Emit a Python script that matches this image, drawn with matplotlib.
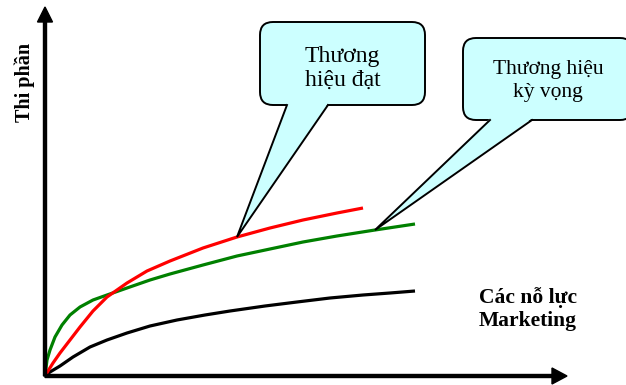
import matplotlib
matplotlib.use("Agg")
import matplotlib.pyplot as plt
from matplotlib.patches import FancyBboxPatch, Polygon

# Curves (x = marketing effort, y = market share)
red_x = [0, 3, 8, 15, 25, 35, 48, 62, 82, 102, 125, 158, 192, 225, 258, 292, 318]
red_y = [0, 5, 13, 23, 36, 49, 65, 79, 93, 105, 115, 128, 139, 148, 156, 163, 168]

green_x = [0, 1, 2, 5, 10, 17, 25, 35, 48, 62, 82, 105, 125, 158, 192, 225, 258, 292, 330, 370]
green_y = [0, 8, 16, 26, 39, 51, 61, 69, 76, 81, 88, 96, 102, 111, 120, 127, 134, 140, 146, 152]

black_x = [0, 5, 15, 28, 45, 62, 82, 105, 132, 160, 185, 220, 252, 285, 318, 345, 370]
black_y = [0, 4, 10, 19, 29, 36, 43, 50, 56, 61, 65, 70, 74, 78, 81, 83, 85]

ylabel = "Thi phần"
xlabel = "Các nỗ lực\nMarketing"
callout_red = "Thương\nhiệu đạt"
callout_green = "Thương hiệu\nkỳ vọng"

SERIF = ["Liberation Serif", "DejaVu Serif"]
BUBBLE_FILL = "#CCFFFF"

fig = plt.figure(figsize=(6.26, 3.85), dpi=100)
ax = fig.add_axes([0, 0, 1, 1])
ax.set_xlim(-45, 581)
ax.set_ylim(-9, 376)
ax.axis("off")

# axes drawn as arrows
ax.arrow(0, 0, 0, 369, width=3, head_width=15, head_length=15,
         length_includes_head=True, fc="black", ec="black", zorder=5)
ax.arrow(0, 0, 522, 0, width=3, head_width=16, head_length=15,
         length_includes_head=True, fc="black", ec="black", zorder=5)

ax.plot(black_x, black_y, color="black", lw=2.3, solid_capstyle="butt", zorder=3)
ax.plot(green_x, green_y, color="#008000", lw=2.3, solid_capstyle="butt", zorder=3)
ax.plot(red_x, red_y, color="#FF0000", lw=2.3, solid_capstyle="butt", zorder=4)


def callout(x0, y0, w, h, base, tip, text, size, dy, spacing):
    box = FancyBboxPatch((x0, y0), w, h, boxstyle="round,pad=0,rounding_size=13",
                         fc=BUBBLE_FILL, ec="black", lw=1.4, zorder=6)
    ax.add_patch(box)
    (bx1, bx2) = base
    tail = Polygon([(bx1, y0 + 1.5), (bx2, y0 + 1.5), tip], closed=True,
                   fc=BUBBLE_FILL, ec="none", zorder=7)
    ax.add_patch(tail)
    ax.plot([bx1, tip[0], bx2], [y0, tip[1], y0], color="black", lw=1.4,
            solid_joinstyle="miter", zorder=8)
    ax.text(x0 + w / 2, y0 + h / 2 + dy, text, ha="center", va="center",
            family=SERIF, fontsize=size, linespacing=spacing, zorder=9)


callout(215, 271, 165, 83, (242, 283), (red_x[12], red_y[12]), callout_red,
        17, -5, 1.2)
callout(418, 256, 170, 82, (445, 487), (green_x[18], green_y[18]), callout_green,
        15.5, -2, 1.22)

ax.text(-20, 294, ylabel, rotation=90, ha="center", va="center",
        family=SERIF, fontsize=14.5, fontweight="bold")
ax.text(483, 67, xlabel, ha="center", va="center", family=SERIF,
        fontsize=15.5, fontweight="bold", linespacing=1.25)

fig.savefig("out.png", dpi=100)
